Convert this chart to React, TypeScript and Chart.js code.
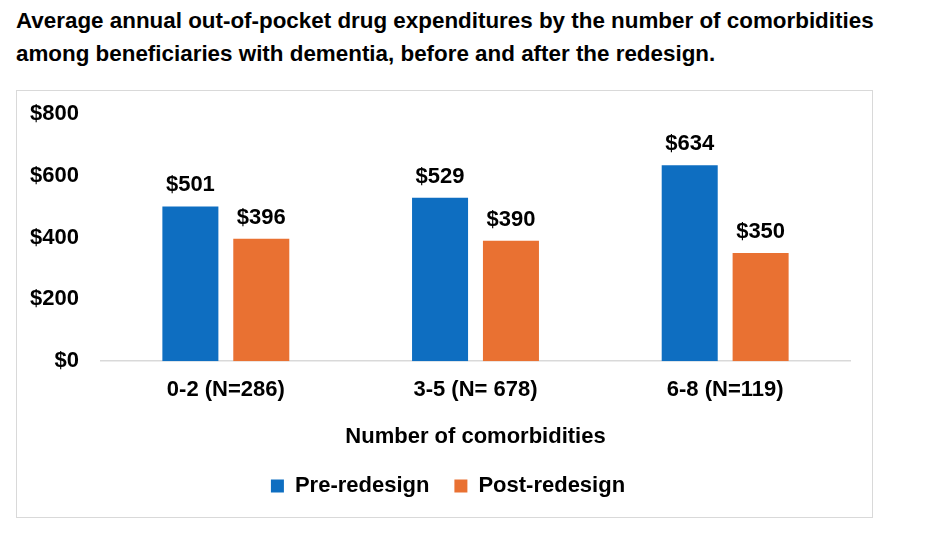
import React, { useEffect, useRef } from "react";
import { Chart, registerables } from "chart.js";

Chart.register(...registerables);

const titleLines = [
  "Average annual out-of-pocket drug expenditures by the number of comorbidities",
  "among beneficiaries with dementia, before and after the redesign.",
];
const categories = ["0-2 (N=286)", "3-5 (N= 678)", "6-8 (N=119)"];
const seriesNames = ["Pre-redesign", "Post-redesign"];
const preRedesign = [501, 529, 634];
const postRedesign = [396, 390, 350];
const yTickValues = [0, 200, 400, 600, 800];
const xAxisTitle = "Number of comorbidities";

const FONT = "'Liberation Sans', Arial, sans-serif";

const valueLabels = {
  id: "valueLabels",
  afterDatasetsDraw(chart: any) {
    const ctx = chart.ctx;
    ctx.save();
    ctx.font = `bold 22px ${FONT}`;
    ctx.fillStyle = "#000000";
    ctx.textAlign = "center";
    ctx.textBaseline = "alphabetic";
    chart.data.datasets.forEach((ds: any, i: number) => {
      const meta = chart.getDatasetMeta(i);
      meta.data.forEach((bar: any, j: number) => {
        ctx.fillText("$" + ds.data[j], bar.x, bar.y - 15);
      });
    });
    ctx.restore();
  },
};

export default function App() {
  const canvasRef = useRef<HTMLCanvasElement | null>(null);

  useEffect(() => {
    if (!canvasRef.current) return;
    const chart = new Chart(canvasRef.current, {
      type: "bar",
      data: {
        labels: categories,
        datasets: [
          {
            label: seriesNames[0],
            data: preRedesign,
            backgroundColor: "#0E6EC1",
            categoryPercentage: 0.568,
            barPercentage: 0.79,
          },
          {
            label: seriesNames[1],
            data: postRedesign,
            backgroundColor: "#E97132",
            categoryPercentage: 0.568,
            barPercentage: 0.79,
          },
        ],
      },
      options: {
        animation: false,
        responsive: false,
        maintainAspectRatio: false,
        layout: { padding: { left: 46, right: 86, top: 114, bottom: 37 } },
        plugins: {
          tooltip: { enabled: false },
          title: { display: false },
          legend: {
            position: "bottom",
            labels: {
              boxWidth: 13,
              boxHeight: 13,
              padding: 25,
              color: "#000000",
              font: { family: FONT, size: 22, weight: "bold" },
            },
          },
        },
        scales: {
          x: {
            grid: { display: false, drawTicks: false },
            border: { display: true, color: "#d9d9d9", width: 1.5 },
            ticks: {
              color: "#000000",
              padding: 16,
              font: { family: FONT, size: 22, weight: "bold" },
            },
            title: {
              display: true,
              text: xAxisTitle,
              color: "#000000",
              padding: { top: 4, bottom: 0 },
              font: { family: FONT, size: 22, weight: "bold" },
            },
          },
          y: {
            min: 0,
            max: 800,
            afterBuildTicks: (scale: any) => {
              scale.ticks = yTickValues.map((v) => ({ value: v }));
            },
            afterFit: (scale: any) => {
              scale.width = 55;
            },
            grid: { display: false, drawTicks: false },
            border: { display: false },
            ticks: {
              color: "#000000",
              mirror: true,
              crossAlign: "far",
              padding: -71,
              font: { family: FONT, size: 22, weight: "bold" },
              callback: (v: any) => "$" + v,
            },
          },
        },
      },
      plugins: [valueLabels],
    });
    return () => chart.destroy();
  }, []);

  return (
    <div>
      <div
        style={{
          position: "absolute",
          left: 16,
          top: 90,
          width: 857,
          height: 428,
          border: "1px solid #d9d9d9",
          boxSizing: "border-box",
          background: "#ffffff",
        }}
      />
      <div
        style={{
          position: "absolute",
          left: 16,
          top: 4,
          font: "bold 22.4px 'Liberation Sans', Arial, sans-serif",
          lineHeight: "33px",
          color: "#000000",
          whiteSpace: "nowrap",
        }}
      >
        {titleLines.map((t, i) => (
          <div key={i}>{t}</div>
        ))}
      </div>
      <canvas
        ref={canvasRef}
        width={936}
        height={544}
        style={{ position: "absolute", left: 0, top: 0, width: 936, height: 544 }}
      />
    </div>
  );
}
